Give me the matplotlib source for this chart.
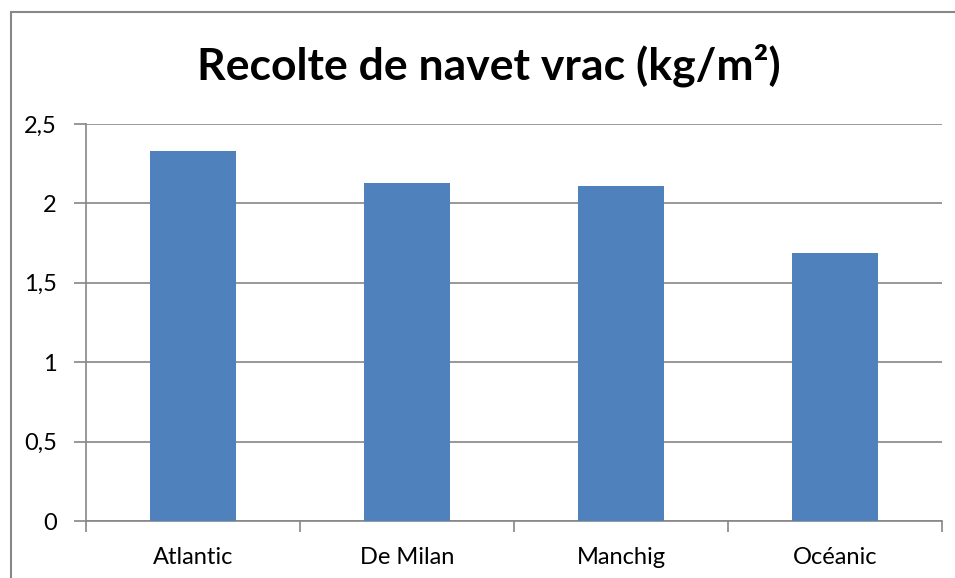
import matplotlib.pyplot as plt
from matplotlib.patches import Rectangle
from matplotlib.ticker import FixedLocator

categories = ["Atlantic", "De Milan", "Manchig", "Océanic"]
values = [2.33, 2.13, 2.11, 1.69]
yticks = [0, 0.5, 1, 1.5, 2, 2.5]
ylabels = ["0", "0,5", "1", "1,5", "2", "2,5"]

plt.rcParams["font.family"] = ["Lato", "DejaVu Sans"]

fig = plt.figure(figsize=(9.55, 5.78), dpi=100)
ax = fig.add_axes([86 / 955, 1 - 521 / 578, (942 - 86) / 955, (521 - 124) / 578])

x = range(len(categories))
ax.bar(x, values, width=0.4, color="#4F81BD", zorder=3)

ax.set_xlim(-0.5, len(categories) - 0.5)
ax.set_ylim(0, 2.5)
ax.set_yticks(yticks)
ax.set_yticklabels(ylabels, fontsize=17)
ax.set_xticks(list(x))
ax.set_xticklabels(categories, fontsize=17)
ax.tick_params(axis="x", length=0, pad=19)
ax.xaxis.set_minor_locator(FixedLocator([i - 0.5 for i in range(len(categories) + 1)]))
ax.tick_params(axis="x", which="minor", length=8, width=1.2, color="#868686", direction="out")
ax.tick_params(axis="y", length=9, width=1.2, color="#868686", direction="out", pad=12)

ax.grid(axis="y", color="#868686", linewidth=1.2, zorder=0)
for s in ["top", "right"]:
    ax.spines[s].set_visible(False)
for s in ["left", "bottom"]:
    ax.spines[s].set_color("#868686")
    ax.spines[s].set_linewidth(1.2)

fig.text(0.512, 1 - 65 / 578, "Recolte de navet vrac (kg/m²)", ha="center", va="center",
         fontsize=32, fontweight="bold")

# cadre du graphique
fig.patches.append(Rectangle((10.5 / 955, -0.1), 1.2, 1.1 - 12 / 578, transform=fig.transFigure,
                             fill=False, edgecolor="#888888", linewidth=1.5))

fig.savefig("out.png", dpi=100)
